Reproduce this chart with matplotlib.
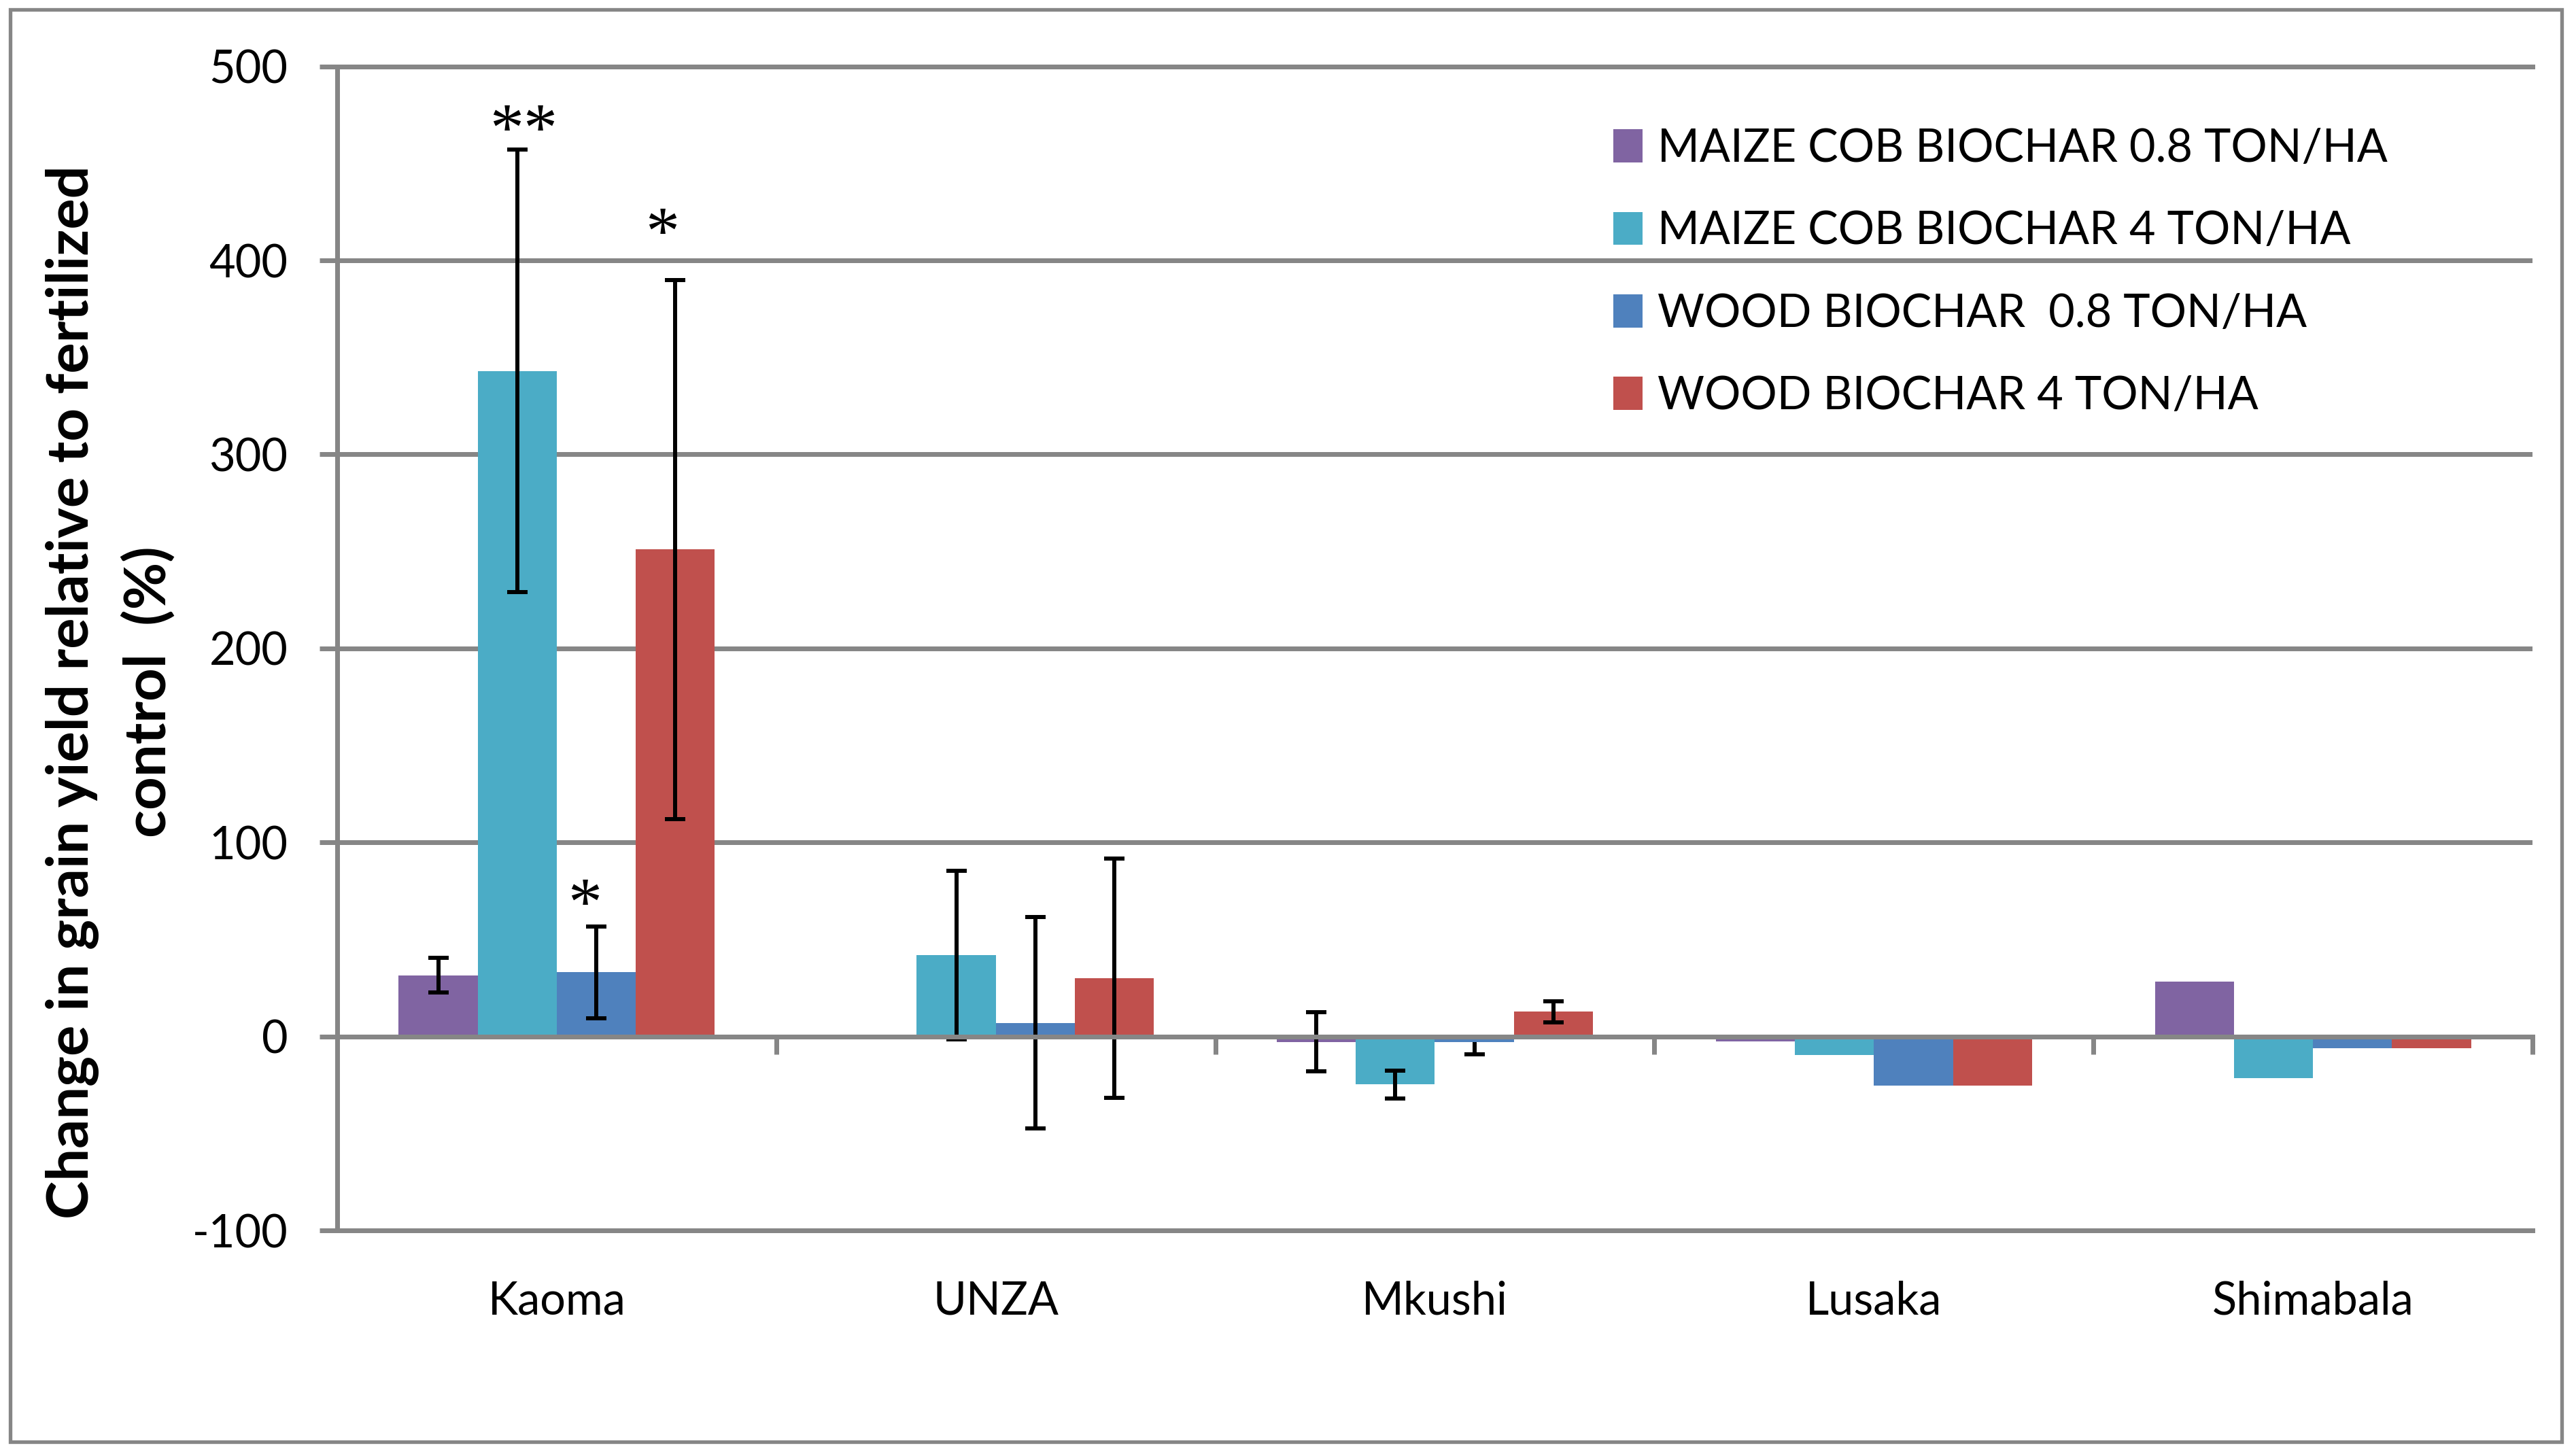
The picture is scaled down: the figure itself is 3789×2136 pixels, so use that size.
import numpy as np
import matplotlib
matplotlib.use("Agg")
import matplotlib.pyplot as plt
from matplotlib.patches import Rectangle

plt.rcParams["font.family"] = ["Lato", "DejaVu Sans"]
plt.rcParams["axes.unicode_minus"] = False

# ---------- data ----------
sites = ["Kaoma", "UNZA", "Mkushi", "Lusaka", "Shimabala"]
labels = ["MAIZE COB BIOCHAR 0.8 TON/HA", "MAIZE COB BIOCHAR 4 TON/HA",
          "WOOD BIOCHAR  0.8 TON/HA", "WOOD BIOCHAR 4 TON/HA"]
colors = ["#8064A2", "#4BACC6", "#4F81BD", "#C0504D"]

maize_08 = [31.5, 0, -2.8, -2.7, 28.3]
maize_4 = [343, 42, -24.8, -9.7, -21.6]
wood_08 = [33, 7, -2.9, -25.2, -6.2]
wood_4 = [251, 30, 12.7, -25.2, -6.2]

# error bars: (minus, plus); nan = no error bar
maize_08_err = [(9, 9), (np.nan, np.nan), (15.2, 15.2), (np.nan, np.nan), (np.nan, np.nan)]
maize_4_err = [(114, 114), (43.5, 43.5), (7.3, 7.3), (np.nan, np.nan), (np.nan, np.nan)]
wood_08_err = [(23.5, 23.5), (54.5, 54.5), (6.2, 0), (np.nan, np.nan), (np.nan, np.nan)]
wood_4_err = [(139, 139), (61.5, 61.5), (5.5, 5.5), (np.nan, np.nan), (np.nan, np.nan)]

# significance stars: (text, series index, site index, y centre, x nudge)
stars = [("**", 1, 0, 474, 0.014), ("*", 3, 0, 421, -0.03), ("*", 2, 0, 75, -0.026)]

series = [maize_08, maize_4, wood_08, wood_4]
errors = [maize_08_err, maize_4_err, wood_08_err, wood_4_err]

gray = "#868686"
fig = plt.figure(figsize=(3789 / 240, 2136 / 240), dpi=240)
ax = fig.add_axes([0.1309, 0.1526, 0.8522, 0.8017])

x = np.arange(len(sites))
w = 0.18
for i, (vals, errs) in enumerate(zip(series, errors)):
    xs = x + (i - 1.5) * w
    ax.bar(xs, vals, width=w, color=colors[i], label=labels[i], zorder=2)
    errs = np.array(errs, dtype=float)
    vals = np.array(vals, dtype=float)
    for j in range(len(sites)):
        if np.isnan(errs[j, 0]):
            continue
        eb = ax.errorbar(xs[j], vals[j], yerr=[[errs[j, 0]], [errs[j, 1]]],
                         fmt="none", ecolor="black", elinewidth=1.8,
                         capsize=4.6, capthick=1.8, zorder=3)
        # one-sided bar: no cap at the bar end
        if errs[j, 1] == 0:
            for cl in eb[1]:
                if cl.get_ydata()[0] >= vals[j]:
                    cl.set_visible(False)

for txt, si, sj, yc, dx in stars:
    ax.text(x[sj] + (si - 1.5) * w + dx, yc - 17, txt, ha="center", va="baseline",
            fontsize=30, family="Liberation Serif", zorder=4)

ax.set_xlim(-0.5, len(sites) - 0.5)
ax.set_ylim(-100, 500)
ax.set_yticks(np.arange(-100, 501, 100))
ax.set_xticks(x, sites)
ax.tick_params(axis="x", length=0, pad=22, labelsize=20)
ax.tick_params(axis="y", direction="out", length=7.8, width=2.1, color=gray,
               pad=14, labelsize=20)
ax.grid(axis="y", color=gray, linewidth=2.1)
ax.set_axisbelow(True)
for side in ["left", "bottom", "top"]:
    ax.spines[side].set_color(gray)
    ax.spines[side].set_linewidth(2.1)
ax.spines["right"].set_visible(False)

# zero line with category separators
zero_pos = (0 - ax.get_ylim()[0]) / (ax.get_ylim()[1] - ax.get_ylim()[0])
sec = ax.secondary_xaxis(zero_pos)
sec.set_xticks(np.arange(-0.5, len(sites), 1.0))
sec.tick_params(axis="x", direction="out", length=7.8, width=2.1, color=gray,
                labelbottom=False, labeltop=False)
for sp in sec.spines.values():
    sp.set_color(gray)
    sp.set_linewidth(2.1)
sec.set_zorder(5)

leg = ax.legend(loc="upper left", bbox_to_anchor=(0.6263, 0.912),
                bbox_transform=fig.transFigure, frameon=False, fontsize=20,
                handlelength=0.65, handleheight=0.75, handletextpad=0.32,
                labelspacing=0.89, borderpad=0, borderaxespad=0)

fig.text(0.0427, 0.5234, "Change in grain yield relative to fertilized\ncontrol  (%)",
         rotation=90, ha="center", va="center", fontsize=25.5, fontweight="bold",
         multialignment="center", linespacing=1.5)

fig.patches.append(Rectangle((0.004, 0.007), 0.9905, 0.9864, transform=fig.transFigure,
                             fill=False, edgecolor=gray, linewidth=1.6))

fig.savefig("out.png", dpi=240)
